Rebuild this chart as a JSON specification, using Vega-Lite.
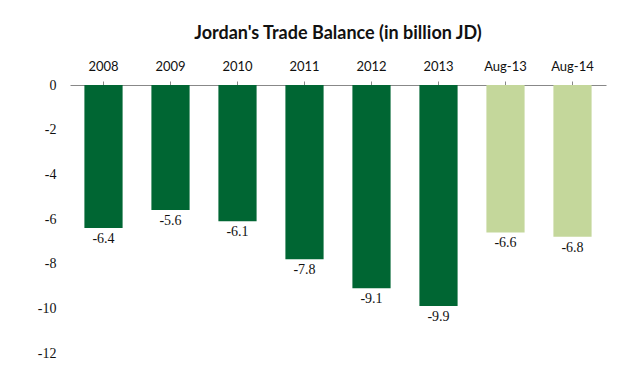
{
  "$schema": "https://vega.github.io/schema/vega-lite/v6.json",
  "autosize": "none",
  "width": 536,
  "height": 268,
  "padding": {"left": 70, "top": 85, "right": 29, "bottom": 14},
  "background": "white",
  "title": {
    "text": "Jordan's Trade Balance (in billion JD)",
    "font": "Lato",
    "fontSize": 18,
    "fontWeight": "bold",
    "color": "#111111",
    "anchor": "middle",
    "offset": 17,
    "frame": "group"
  },
  "data": {
    "values": [
      {"period": "2008", "value": -6.4, "type": "year"},
      {"period": "2009", "value": -5.6, "type": "year"},
      {"period": "2010", "value": -6.1, "type": "year"},
      {"period": "2011", "value": -7.8, "type": "year"},
      {"period": "2012", "value": -9.1, "type": "year"},
      {"period": "2013", "value": -9.9, "type": "year"},
      {"period": "Aug-13", "value": -6.6, "type": "aug"},
      {"period": "Aug-14", "value": -6.8, "type": "aug"}
    ]
  },
  "config": {
    "view": {"stroke": null},
    "locale": {"number": {"decimal": ".", "thousands": ",", "grouping": [3], "currency": ["$", ""], "minus": "-"}}
  },
  "encoding": {
    "x": {
      "field": "period",
      "type": "nominal",
      "sort": null,
      "scale": {"paddingInner": 0.43, "paddingOuter": 0.215},
      "axis": {
        "orient": "top",
        "title": null,
        "labelAngle": 0,
        "labelFont": "Lato",
        "labelFontSize": 13,
        "labelColor": "#111111",
        "labelPadding": 8,
        "domainColor": "#888888",
        "tickColor": "#888888",
        "tickSize": 4,
        "ticks": true
      }
    }
  },
  "layer": [
    {
      "mark": {"type": "bar"},
      "encoding": {
        "y": {
          "field": "value",
          "type": "quantitative",
          "scale": {"domain": [-12, 0], "nice": false},
          "axis": {
            "title": null,
            "values": [0, -2, -4, -6, -8, -10, -12],
            "format": "d",
            "grid": false,
            "domain": false,
            "ticks": false,
            "labelFont": "Liberation Serif",
            "labelFontSize": 14,
            "labelColor": "#111111",
            "labelPadding": 14
          }
        },
        "color": {
          "field": "type",
          "type": "nominal",
          "scale": {"domain": ["year", "aug"], "range": ["#006633", "#c4d79b"]},
          "legend": null
        }
      }
    },
    {
      "mark": {"type": "text", "baseline": "top", "dy": 4, "font": "Liberation Serif", "fontSize": 14, "color": "#111111"},
      "encoding": {
        "y": {"field": "value", "type": "quantitative"},
        "text": {"field": "value", "type": "quantitative", "format": ".1f"}
      }
    }
  ]
}
